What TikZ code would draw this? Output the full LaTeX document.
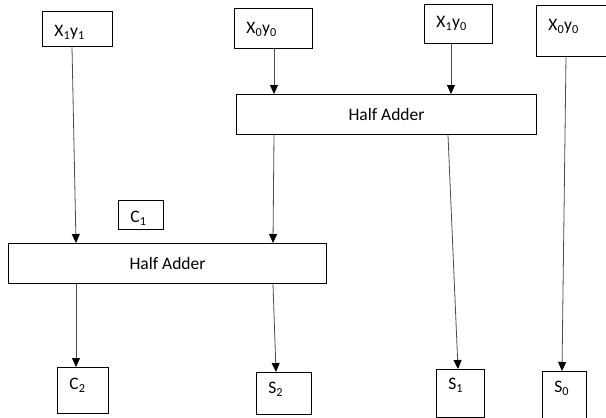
\documentclass[tikz,border=0pt]{standalone}
\usepackage{fontspec}
\setmainfont{Carlito}
\usetikzlibrary{arrows.meta}

\tikzset{
	term/.style={draw, line width=0.9pt, anchor=north west, align=left,
		inner xsep=12pt, inner ysep=0pt},
	adder/.style={draw, line width=1pt, anchor=north west, inner sep=0pt,
		minimum width=#1, minimum height=40pt},
	wire/.style={draw=black!70, line width=0.8pt, -{Triangle[length=9pt,width=8pt,black]}}
}

\begin{document}
\begin{tikzpicture}[x=1pt, y=-1pt, font=\fontsize{17.5}{20}\selectfont]
		\useasboundingbox (0,0) rectangle (606,418);
		
		% Inputs
		\node[term, text width=46pt, text height=25pt, text depth=10pt] (x1y1) at (42,11) {X\textsubscript{1}y\textsubscript{1}};
		\node[term, text width=54pt, text height=25pt, text depth=15pt] (x0y0) at (234,8) {X\textsubscript{0}y\textsubscript{0}};
		\node[term, text width=44pt, text height=23pt, text depth=16pt] (x1y0) at (424,4) {X\textsubscript{1}y\textsubscript{0}};
		\node[term, text width=50pt, text height=25pt, text depth=26pt] (x0y0b) at (536,5) {X\textsubscript{0}y\textsubscript{0}};
		
		% Half adders
		\node[adder=300pt] (ha1) at (236,94) {Half Adder};
		\node[adder=318pt] (ha2) at (8,243) {Half Adder};
		
		% Carry
		\node[term, text width=21pt, text height=22pt, text depth=7pt] (c1) at (118,200) {C\textsubscript{1}};
		
		% Outputs
		\node[term, text width=27pt, text height=22pt, text depth=24pt] (c2) at (57,367) {C\textsubscript{2}};
		\node[term, text width=31pt, text height=21pt, text depth=21pt] (s2) at (256,372) {S\textsubscript{2}};
		\node[term, text width=24pt, text height=20pt, text depth=28pt] (s1) at (436,369) {S\textsubscript{1}};
		\node[term, text width=20pt, text height=21pt, text depth=29pt] (s0) at (542,371) {S\textsubscript{0}};
		
		% Wires
		\draw[wire] ([xshift=40pt]x0y0.south west) -- ([xshift=38pt]ha1.north west);
		\draw[wire] ([xshift=27pt]x1y0.south west) -- ([xshift=215pt]ha1.north west);
		\draw[wire] ([xshift=30pt]x1y1.south west) -- ([xshift=68pt]ha2.north west);
		\draw[wire] ([xshift=38pt]ha1.south west) -- ([xshift=265pt]ha2.north west);
		\draw[wire] ([xshift=212pt]ha1.south west) -- ([xshift=22pt]s1.north west);
		\draw[wire] ([xshift=30pt]x0y0b.south west) -- ([xshift=20pt]s0.north west);
		\draw[wire] ([xshift=68pt]ha2.south west) -- ([xshift=19pt]c2.north west);
		\draw[wire] ([xshift=265pt]ha2.south west) -- ([xshift=20pt]s2.north west);
	\end{tikzpicture}
\end{document}
